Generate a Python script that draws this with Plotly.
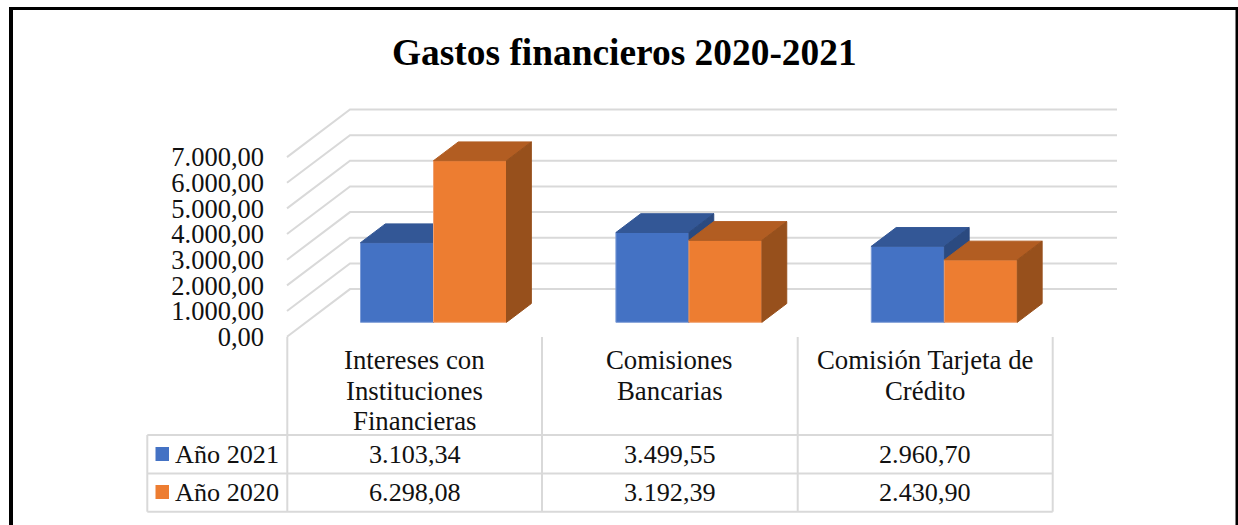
import plotly.graph_objects as go

# ---- data ----
categories = ["Intereses con<br>Instituciones<br>Financieras", "Comisiones<br>Bancarias", "Comisión Tarjeta de<br>Crédito"]
series_names = ["Año 2021", "Año 2020"]
values_2021 = [3103.34, 3499.55, 2960.70]
values_2020 = [6298.08, 3192.39, 2430.90]
y_ticks = [0, 1000, 2000, 3000, 4000, 5000, 6000, 7000]
title_text = "Gastos financieros 2020-2021"

# ---- layout geometry (pixels) ----
W, H = 1238, 525
FONT = "Liberation Serif"
GREY = "#D9D9D9"
PX_PER_UNIT = 0.02566      # vertical pixels per value unit
Y0_PX = 336.7              # pixel row of value 0 on the front edge
X0_PX = 433.5              # pixel column of the centre of category 0
CAT_PX = 255.4             # pixels per category
DEPTH_X = 63 / CAT_PX      # full depth of the floor, category units
DEPTH_Y = 47.6 / PX_PER_UNIT  # full depth of the floor, value units
BAR_W = 73 / CAT_PX
D_FRONT, D_BACK = 0.3025, 0.697
WALL_LEFT = (287 - X0_PX) / CAT_PX
WALL_RIGHT = (1117 - X0_PX) / CAT_PX - DEPTH_X

xr = [-X0_PX / CAT_PX, (W - X0_PX) / CAT_PX]
yr = [(Y0_PX - H) / PX_PER_UNIT, Y0_PX / PX_PER_UNIT]
px = lambda x: x / W
py = lambda y: 1 - y / H

fig = go.Figure()

# gridlines on floor side wall and back wall
gx, gy = [], []
for t in y_ticks:
    gx += [WALL_LEFT, WALL_LEFT + DEPTH_X, WALL_RIGHT + DEPTH_X, None]
    gy += [t, t + DEPTH_Y, t + DEPTH_Y, None]
fig.add_trace(go.Scatter(x=gx, y=gy, mode="lines", line=dict(color=GREY, width=2),
                         hoverinfo="skip", showlegend=False, xaxis="x", yaxis="y"))


def add_bars(values, offset, name, front, top, side, edge, xa, ya):
    base = D_FRONT * DEPTH_Y
    cats = list(range(len(values)))
    fig.add_trace(go.Bar(x=cats, y=values, base=base, width=BAR_W, offset=offset, name=name,
                         marker=dict(color=front, line=dict(color=edge, width=1)),
                         showlegend=False, xaxis=xa, yaxis=ya))
    dx0, dx1 = D_FRONT * DEPTH_X, D_BACK * DEPTH_X
    dy = (D_BACK - D_FRONT) * DEPTH_Y
    ddx = dx1 - dx0
    tx, ty, sx, sy = [], [], [], []
    for c, v in zip(cats, values):
        l = c + offset
        r = l + BAR_W
        t = v + base
        tx += [l, l + ddx, r + ddx, r, l, None]
        ty += [t, t + dy, t + dy, t, t, None]
        sx += [r, r + ddx, r + ddx, r, r, None]
        sy += [t, t + dy, base + dy, base, t, None]
    for xs, ys, col in ((tx, ty, top), (sx, sy, side)):
        fig.add_trace(go.Scatter(x=xs, y=ys, mode="lines", fill="toself", fillcolor=col,
                                 line=dict(color=col, width=1), hoverinfo="skip",
                                 showlegend=False, xaxis=xa, yaxis=ya))


add_bars(values_2021, -BAR_W, series_names[0], "#4472C4", "#335796", "#2B4A80", "#7C9BD6", "x2", "y2")
add_bars(values_2020, 0, series_names[1], "#ED7D31", "#B25D22", "#97501C", "#F0A070", "x3", "y3")

hidden = dict(visible=False, fixedrange=True)
fig.update_layout(
    width=W, height=H, margin=dict(l=0, r=0, t=0, b=0),
    paper_bgcolor="white", plot_bgcolor="rgba(0,0,0,0)",
    separators=",.", showlegend=False, barmode="overlay",
    font=dict(family=FONT, size=26, color="#111111"),
    xaxis=dict(range=xr, domain=[0, 1], **hidden),
    yaxis=dict(range=yr, domain=[0, 1], anchor="free", position=264 / W, side="left",
               tickvals=y_ticks, tickformat=",.2f", showgrid=False, zeroline=False,
               showline=False, ticks="", fixedrange=True,
               tickfont=dict(family=FONT, size=26.5, color="#111111")),
    xaxis2=dict(range=xr, overlaying="x", **hidden),
    yaxis2=dict(range=yr, overlaying="y", **hidden),
    xaxis3=dict(range=xr, overlaying="x", **hidden),
    yaxis3=dict(range=yr, overlaying="y", **hidden),
)

# ---- title ----
fig.add_annotation(text=f"<b>{title_text}</b>", xref="paper", yref="paper", x=px(624), y=py(52),
                   xanchor="center", yanchor="middle", showarrow=False,
                   font=dict(family=FONT, size=37.4, color="#000000"))


def fmt(v):
    return f"{v:,.2f}".replace(",", "#").replace(".", ",").replace("#", ".")


def label(text, x, y, anchor="center", size=26.2):
    fig.add_annotation(text=text, xref="paper", yref="paper", x=px(x), y=py(y), xanchor=anchor,
                       yanchor="middle", showarrow=False,
                       font=dict(family=FONT, size=size, color="#111111"))


# ---- data table ----
col_edges = [287.3, 542, 797.7, 1052.7]
row_edges = [435, 473.5, 511.7]
TABLE_TOP = 337
LEFT = 147.3


def seg(x0, y0, x1, y1, color=GREY, width=2):
    fig.add_shape(type="line", xref="paper", yref="paper", x0=px(x0), y0=py(y0), x1=px(x1), y1=py(y1),
                  line=dict(color=color, width=width))


for x in col_edges:
    seg(x, TABLE_TOP, x, row_edges[-1])
seg(LEFT, row_edges[0], LEFT, row_edges[-1])
for y in row_edges:
    seg(LEFT, y, col_edges[-1], y)

line_rows = [359.5, 390.5, 420.5]
for i, cat in enumerate(categories):
    cx = (col_edges[i] + col_edges[i + 1]) / 2
    for line, y in zip(cat.split("<br>"), line_rows):
        label(line, cx, y, size=26.8)
    label(fmt(values_2021[i]), cx, 454)
    label(fmt(values_2020[i]), cx, 492)

for name, y, color in ((series_names[0], 454, "#4472C4"), (series_names[1], 492, "#ED7D31")):
    label(name, 173, y, anchor="left")
    fig.add_shape(type="rect", xref="paper", yref="paper", x0=px(155.5), x1=px(169), y0=py(y - 7), y1=py(y + 7),
                  fillcolor=color, line=dict(width=0))

# ---- outer frame ----
seg(11, 8.5, 11, H, "#000000", 4)
seg(9, 8.5, W, 8.5, "#000000", 3)
seg(1237, 7, 1237, H, "#000000", 3)

fig.write_html("out.html", config=dict(displayModeBar=False),
               post_script="document.body.style.margin='0';")
